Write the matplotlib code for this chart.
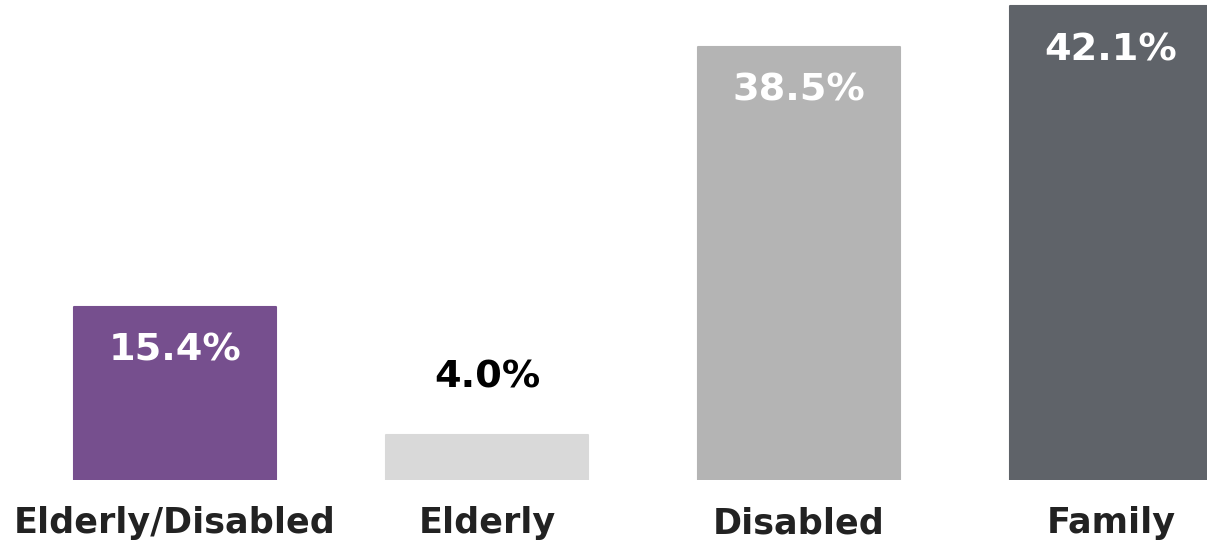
import matplotlib
matplotlib.use("Agg")
import matplotlib.pyplot as plt

categories = ["Elderly/Disabled", "Elderly", "Disabled", "Family"]
values = [15.4, 4.0, 38.5, 42.1]
value_labels = ["15.4%", "4.0%", "38.5%", "42.1%"]
colors = ["#764F8E", "#D9D9D9", "#B4B4B4", "#5F6369"]
label_inside = [True, False, True, True]

W, H, DPI = 1207, 541, 100
fig = plt.figure(figsize=(W / DPI, H / DPI), dpi=DPI)
fig.patch.set_facecolor("white")
# axes: spans full width, from top down to baseline at y=480px
ax = fig.add_axes([0, (H - 480) / H, 1, 480 / H])
ax.set_facecolor("white")

px_per_unit = 11.25
x = list(range(len(categories)))
bars = ax.bar(x, values, width=0.647, color=colors, edgecolor=colors,
              linewidth=1.5, joinstyle="round")

ax.set_ylim(0, 480 / px_per_unit)
ax.set_xlim(-175 / 312, -175 / 312 + W / 312)

font = "DejaVu Sans"
for xi, v, lab, inside in zip(x, values, value_labels, label_inside):
    if inside:
        ax.annotate(lab, (xi, v), xytext=(0, -54 * 72 / DPI), textcoords="offset points",
                    ha="center", va="baseline", color="white", fontsize=27.5,
                    fontweight="bold", family=font)
    else:
        ax.annotate(lab, (xi, v), xytext=(0, 47 * 72 / DPI), textcoords="offset points",
                    ha="center", va="baseline", color="black", fontsize=27.5,
                    fontweight="bold", family=font)

ax.set_xticks(x)
ax.set_xticklabels(categories, fontsize=25.2, fontweight="bold", family=font, color="#222222")
ax.tick_params(axis="x", length=0, pad=26 * 72 / DPI)
ax.set_yticks([])
for s in ax.spines.values():
    s.set_visible(False)

fig.savefig("out.png", dpi=DPI, facecolor="white")
